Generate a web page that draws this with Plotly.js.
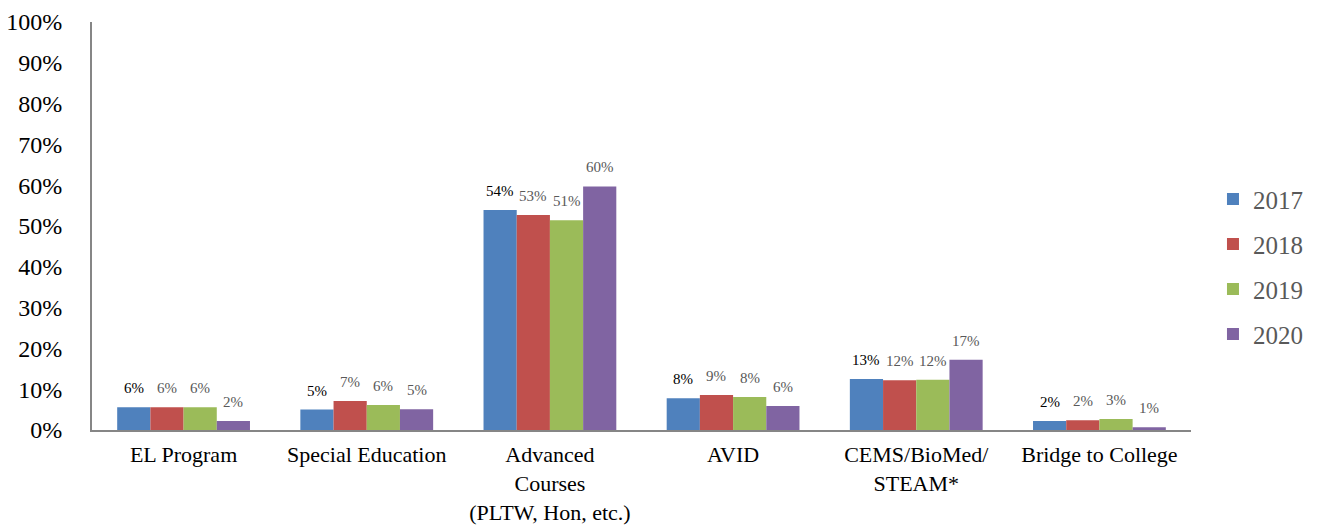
<!DOCTYPE html>
<html>
<head>
<meta charset="utf-8">
<script src="https://cdn.plot.ly/plotly-3.0.1.min.js"></script>
<style>
  html, body { margin: 0; padding: 0; background: #fff; font-family: 'Liberation Serif', serif; }
  #chart { width: 1320px; height: 525px; }
</style>
</head>
<body>
<div id="chart"></div>
<script>
// Program participation by year (share of students, %)
const categories = [
  "EL Program",
  "Special Education",
  "Advanced<br>Courses<br>(PLTW, Hon, etc.)",
  "AVID",
  "CEMS/BioMed/<br>STEAM*",
  "Bridge to College"
];
const years = ["2017", "2018", "2019", "2020"];
const values2017 = [5.6, 5.0, 53.9, 7.8, 12.5, 2.2];
const values2018 = [5.6, 7.1, 52.7, 8.6, 12.2, 2.4];
const values2019 = [5.6, 6.1, 51.4, 8.1, 12.3, 2.7];
const values2020 = [2.2, 5.1, 59.7, 5.9, 17.2, 0.7];
const yTicks = [0, 10, 20, 30, 40, 50, 60, 70, 80, 90, 100];
const yTickLabels = yTicks.map(v => v + "%");

const series = [values2017, values2018, values2019, values2020];
const colors = ["#4F81BD", "#C0504D", "#9BBB59", "#8064A2"];
const labelColors = ["#000000", "#595959", "#595959", "#595959"];
const FONT_FAMILY = "Liberation Serif";

const traces = series.map((vals, i) => ({
  type: "bar",
  name: years[i],
  x: categories,
  y: vals,
  marker: { color: colors[i] },
  legendgroup: years[i],
  hoverinfo: "x+y+name"
}));

// plot geometry used to centre value labels over grouped bars
const margin = { l: 92, r: 127, t: 22, b: 95 };
const plotWidth = 1320 - margin.l - margin.r;
const bargap = 0.275;
const barPx = plotWidth / categories.length * (1 - bargap) / series.length;

const annotations = [];
series.forEach((vals, i) => {
  vals.forEach((v, j) => {
    annotations.push({
      x: categories[j],
      y: v,
      xref: "x",
      yref: "y",
      text: Math.round(v) + "%",
      showarrow: false,
      yanchor: "bottom",
      xanchor: "center",
      xshift: (i - (series.length - 1) / 2) * barPx,
      yshift: 9,
      font: { family: FONT_FAMILY, size: 15, color: labelColors[i] }
    });
  });
});

const layout = {
  width: 1320,
  height: 525,
  margin: margin,
  paper_bgcolor: "#ffffff",
  plot_bgcolor: "#ffffff",
  barmode: "group",
  bargap: bargap,
  bargroupgap: 0,
  font: { family: FONT_FAMILY, size: 15, color: "#000000" },
  xaxis: {
    type: "category",
    showline: true,
    linecolor: "#868686",
    linewidth: 2,
    ticks: "",
    showgrid: false,
    zeroline: false,
    tickfont: { family: FONT_FAMILY, size: 22, color: "#000000" },
    ticklabelstandoff: 4,
    range: [-0.5, categories.length - 0.5]
  },
  yaxis: {
    range: [0, 100],
    tickvals: yTicks,
    ticktext: yTickLabels,
    showline: true,
    linecolor: "#868686",
    linewidth: 2,
    ticks: "",
    showgrid: false,
    zeroline: false,
    tickfont: { family: FONT_FAMILY, size: 24, color: "#000000" },
    ticklabelstandoff: 23
  },
  showlegend: true,
  legend: {
    x: 1.02,
    xanchor: "left",
    y: 0.4,
    yanchor: "middle",
    font: { family: FONT_FAMILY, size: 25, color: "#595959" },
    itemwidth: 30,
    tracegroupgap: 9.5,
    traceorder: "grouped",
    bgcolor: "rgba(0,0,0,0)"
  },
  annotations: annotations
};

Plotly.newPlot("chart", traces, layout, { displayModeBar: false, staticPlot: true });
</script>
</body>
</html>
